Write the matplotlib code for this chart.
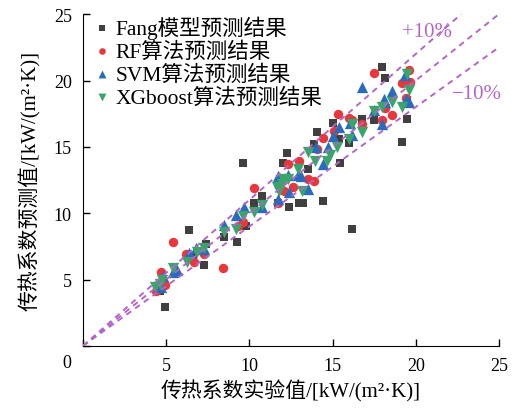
import numpy as np
import matplotlib
matplotlib.use("Agg")
import matplotlib.pyplot as plt

plt.rcParams['font.family'] = ['Liberation Serif', 'Noto Sans CJK SC']

# Fang model
fang_x = [4.9, 4.6, 4.7, 6.4, 6.6, 7.3, 7.4, 8.5, 9.25, 9.8, 9.6, 10.3, 10.75, 11.7,
          12.0, 12.25, 12.4, 13.0, 13.2, 13.5, 14.4, 13.9, 14.05, 15.0, 15.4, 15.45,
          16.0, 16.2, 16.8, 17.5, 19.2, 19.5, 18.0, 18.15, 19.5]
fang_y = [2.9, 4.1, 4.5, 8.7, 6.6, 6.1, 7.7, 8.2, 7.8, 9.0, 13.8, 10.75, 11.3, 10.8,
          13.8, 14.5, 10.5, 10.8, 10.8, 13.3, 10.9, 15.2, 16.1, 16.8, 15.6, 13.8,
          15.3, 8.8, 17.1, 17.0, 15.4, 17.1, 21.0, 20.2, 18.5]

# RF
rf_x = [4.7, 4.4, 4.9, 5.4, 6.2, 6.7, 7.3, 8.4, 9.6, 9.3, 10.3, 11.7, 12.1, 12.3, 12.6,
        13.0, 13.5, 13.9, 14.05, 14.4, 15.1, 15.3, 16.0, 16.2, 16.8, 18.0, 18.15,
        18.6, 17.5, 19.65, 19.2, 19.6, 19.4]
rf_y = [5.6, 4.1, 4.6, 7.8, 6.9, 6.3, 6.9, 5.9, 9.3, 9.0, 11.9, 10.75, 11.65, 13.7, 12.0,
        13.9, 12.55, 12.4, 14.8, 15.7, 16.2, 17.5, 17.2, 17.05, 16.7, 17.0, 17.9,
        17.4, 20.6, 19.9, 19.8, 20.8, 18.7]

# SVM
svm_x = [4.7, 4.8, 5.4, 5.65, 6.4, 6.8, 7.3, 8.5, 9.2, 9.7, 10.75, 11.7, 11.7, 12.3,
         12.4, 12.9, 13.1, 13.5, 14.0, 14.4, 14.7, 15.0, 15.4, 16.2, 16.05, 17.5,
         18.0, 18.15, 19.6, 16.8, 19.35, 18.6, 18.1, 19.4]
svm_y = [4.4, 5.3, 5.6, 5.7, 7.0, 7.4, 7.3, 9.1, 9.85, 10.45, 10.45, 12.8, 11.1, 12.9,
         11.6, 12.9, 12.8, 11.8, 15.0, 13.7, 15.0, 15.8, 16.5, 15.9, 16.8, 17.8,
         16.7, 18.4, 18.4, 19.5, 20.45, 19.2, 18.6, 18.6]

# XGboost
xgb_x = [4.3, 4.75, 4.6, 5.4, 6.25, 6.85, 7.3, 8.5, 9.2, 9.6, 10.3, 10.75, 11.65,
         11.95, 12.3, 12.95, 13.15, 13.5, 13.95, 14.65, 14.85, 15.25, 16.0, 16.2,
         16.75, 17.5, 18.6, 19.2, 19.5, 19.6, 18.0, 12.0, 11.8]
xgb_y = [4.4, 5.0, 4.7, 5.9, 6.3, 7.05, 7.4, 8.6, 8.8, 9.8, 10.1, 10.6, 12.0,
         12.2, 12.55, 13.3, 11.65, 14.6, 13.9, 13.9, 14.4, 15.0, 15.6, 16.7,
         16.1, 17.7, 18.4, 18.0, 20.5, 19.3, 18.0, 12.6, 11.7]

ticks = [0, 5, 10, 15, 20, 25]
purple = '#b466c8'

fig = plt.figure(figsize=(5.17, 4.10), dpi=100)
ax = fig.add_axes([0.1605, 0.154, 0.8045, 0.809])

ax.scatter(fang_x, fang_y, marker='s', s=34, color='#404040', lw=0,
           label='Fang模型预测结果', zorder=2)
ax.scatter(rf_x, rf_y, marker='o', s=46, color='#e8383d', lw=0,
           label='RF算法预测结果', zorder=3)
ax.scatter(svm_x, svm_y, marker='^', s=66, color='#2a6cbc', lw=0,
           label='SVM算法预测结果', zorder=4)
ax.scatter(xgb_x, xgb_y, marker='v', s=66, color='#3aa46a', lw=0,
           label='XGboost算法预测结果', zorder=5)

# reference lines y = x, +10%, -10%
for k in (1.0, 1.1, 0.9):
    xx = np.array([0, min(25, 25 / k)])
    ax.plot(xx, k * xx, ls=(0, (3, 2.5)), color=purple, lw=1.4, zorder=6)

ax.text(20.7, 23.7, '+10%', color=purple, fontsize=15, ha='center', va='center')
ax.text(23.7, 19.0, '−10%', color=purple, fontsize=15, ha='center', va='center')

ax.set_xlim(0, 25)
ax.set_ylim(0, 25)
ax.set_xticks(ticks)
ax.set_yticks(ticks)
ax.set_xticklabels([''] + [str(t) for t in ticks[1:]])
ax.set_yticklabels([''] + [str(t) for t in ticks[1:]])
ax.text(-0.038, -0.051, '0', transform=ax.transAxes, fontsize=13,
        ha='center', va='center')
ax.tick_params(direction='in', length=5, width=1, labelsize=13, pad=8)
ax.spines['top'].set_visible(False)
ax.spines['right'].set_visible(False)

ax.set_xlabel('传热系数实验值/[kW/(m²·K)]', fontsize=15, labelpad=4)
ax.set_ylabel('传热系数预测值/[kW/(m²·K)]', fontsize=15, labelpad=9)

ax.legend(loc='upper left', bbox_to_anchor=(-0.012, 1.035), frameon=False,
          fontsize=15.5, handlelength=1.0, handletextpad=0.15,
          labelspacing=0.12, borderaxespad=0.2,
          markerscale=0.7, scatterpoints=1)

fig.savefig('out.png', dpi=100)
